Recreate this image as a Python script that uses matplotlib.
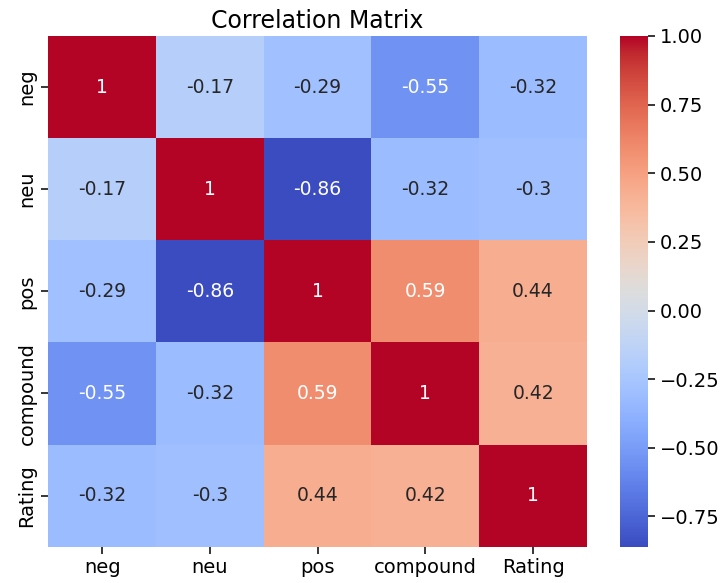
import numpy as np
import pandas as pd
import matplotlib
matplotlib.use('Agg')
import matplotlib.pyplot as plt
import seaborn as sns

labels = ['neg', 'neu', 'pos', 'compound', 'Rating']
corr_values = [
    [1.00, -0.17, -0.29, -0.55, -0.32],
    [-0.17, 1.00, -0.86, -0.32, -0.30],
    [-0.29, -0.86, 1.00, 0.59, 0.44],
    [-0.55, -0.32, 0.59, 1.00, 0.42],
    [-0.32, -0.30, 0.44, 0.42, 1.00],
]
cbar_ticks = [-0.75, -0.5, -0.25, 0, 0.25, 0.5, 0.75, 1.0]

corr = pd.DataFrame(corr_values, index=labels, columns=labels)

plt.rcParams['font.size'] = 14
fig = plt.figure(figsize=(7.25, 5.83), dpi=100)
ax = fig.add_axes([0.0666, 0.0623, 0.743, 0.876])
cax = fig.add_axes([0.855, 0.0623, 0.0386, 0.876])

sns.heatmap(corr, annot=True, cmap='coolwarm', ax=ax, cbar_ax=cax,
            annot_kws={'fontsize': 13.5})
ax.set_title('Correlation Matrix', fontsize=17)
ax.tick_params(labelsize=14, length=5, width=1.1)
cax.set_yticks(cbar_ticks)
cax.set_yticklabels(['\u2212%.2f' % -t if t < 0 else '%.2f' % t for t in cbar_ticks])
cax.tick_params(labelsize=14, length=5, width=1.1)

fig.savefig('out.png', dpi=100)
